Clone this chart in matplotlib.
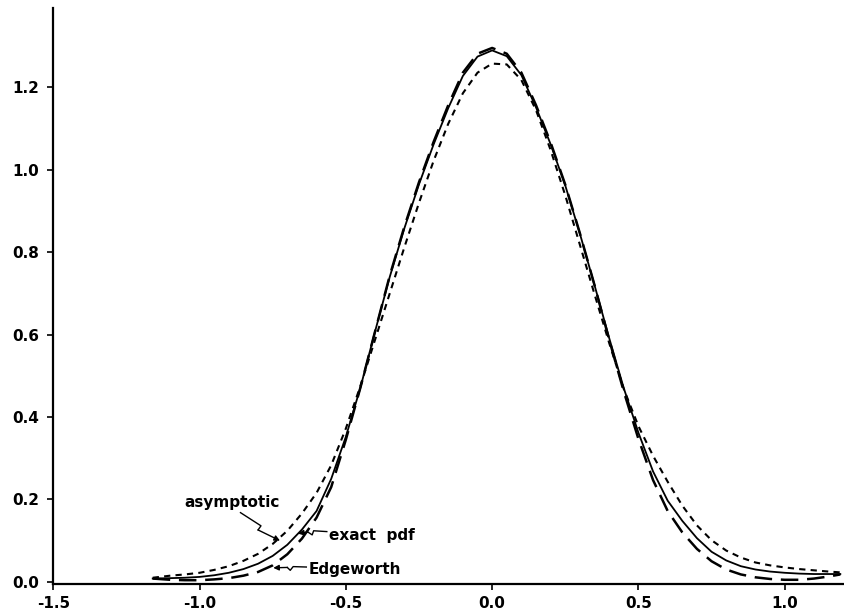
import numpy as np
import matplotlib
matplotlib.use("Agg")
import matplotlib.pyplot as plt

# values
x = [-1.16, -1.10, -1.05, -1.00, -0.95, -0.90, -0.85, -0.80, -0.75, -0.70,
     -0.65, -0.60, -0.55, -0.50, -0.45, -0.40, -0.35, -0.30, -0.25, -0.20,
     -0.15, -0.10, -0.05, 0.00, 0.05, 0.10, 0.15, 0.20, 0.25, 0.30,
     0.35, 0.40, 0.45, 0.50, 0.55, 0.60, 0.65, 0.70, 0.75, 0.80,
     0.85, 0.90, 0.95, 1.00, 1.05, 1.10, 1.15, 1.19]

exact_pdf = [0.008, 0.009, 0.010, 0.012, 0.016, 0.022, 0.031, 0.044, 0.063, 0.090,
             0.127, 0.172, 0.250, 0.352, 0.472, 0.608, 0.740, 0.858, 0.965, 1.062,
             1.150, 1.228, 1.275, 1.290, 1.276, 1.230, 1.152, 1.062, 0.962, 0.845,
             0.720, 0.592, 0.470, 0.362, 0.268, 0.197, 0.148, 0.106, 0.073, 0.052,
             0.038, 0.030, 0.025, 0.022, 0.020, 0.019, 0.019, 0.019]

asymptotic = [0.010, 0.015, 0.018, 0.022, 0.029, 0.038, 0.051, 0.068, 0.092, 0.124,
              0.166, 0.216, 0.283, 0.372, 0.476, 0.588, 0.700, 0.812, 0.920, 1.022,
              1.112, 1.186, 1.236, 1.258, 1.256, 1.218, 1.145, 1.048, 0.938, 0.818,
              0.698, 0.580, 0.468, 0.378, 0.306, 0.243, 0.185, 0.137, 0.101, 0.076,
              0.059, 0.047, 0.040, 0.035, 0.031, 0.028, 0.025, 0.023]

edgeworth = [0.008, 0.005, 0.004, 0.004, 0.006, 0.009, 0.015, 0.024, 0.040, 0.067,
             0.105, 0.156, 0.230, 0.345, 0.472, 0.608, 0.743, 0.862, 0.970, 1.068,
             1.157, 1.236, 1.282, 1.296, 1.282, 1.236, 1.157, 1.066, 0.964, 0.846,
             0.720, 0.588, 0.462, 0.347, 0.247, 0.172, 0.120, 0.080, 0.050, 0.030,
             0.018, 0.011, 0.007, 0.005, 0.005, 0.008, 0.013, 0.018]

xticks = [-1.5, -1.0, -0.5, 0.0, 0.5, 1.0]
yticks = [0.0, 0.2, 0.4, 0.6, 0.8, 1.0, 1.2]

plt.rcParams['axes.unicode_minus'] = False
plt.rcParams['font.family'] = 'DejaVu Sans'

fig = plt.figure(figsize=(8.45, 6.14), dpi=100)
ax = fig.add_axes([0.063, 0.049, 0.937, 0.938])

ax.plot(x, exact_pdf, color='black', lw=1.3, ls='-')
ax.plot(x, asymptotic, color='black', lw=1.5, ls=(0, (3, 2.5)))
ax.plot(x, edgeworth, color='black', lw=1.8, ls=(0, (7, 3.5)))

ax.set_xlim(-1.5, 1.206)
ax.set_ylim(-0.005, 1.393)
ax.set_xticks(xticks)
ax.set_xticklabels(['%.1f' % t for t in xticks])
ax.set_yticks(yticks)
ax.set_yticklabels(['%.1f' % t for t in yticks])

for s in ['top', 'right']:
    ax.spines[s].set_visible(False)
ax.spines['left'].set_linewidth(1.6)
ax.spines['bottom'].set_linewidth(1.6)
ax.tick_params(direction='out', length=4, width=1.2, labelsize=11)
ax.tick_params(axis='y', pad=6)
ax.tick_params(axis='x', pad=5)
for lab in ax.get_xticklabels() + ax.get_yticklabels():
    lab.set_fontweight('bold')

# labels with zigzag pointers
ax.text(-0.889, 0.192, 'asymptotic', fontsize=11, fontweight='bold', ha='center', va='center')
ax.text(-0.557, 0.113, 'exact  pdf', fontsize=11, fontweight='bold', ha='left', va='center')
ax.text(-0.628, 0.030, 'Edgeworth', fontsize=11, fontweight='bold', ha='left', va='center')

pointers = [
    [(-0.86, 0.168), (-0.79, 0.136), (-0.80, 0.126), (-0.725, 0.100)],
    [(-0.565, 0.122), (-0.61, 0.124), (-0.615, 0.114), (-0.63, 0.121), (-0.663, 0.117)],
    [(-0.635, 0.036), (-0.68, 0.037), (-0.69, 0.028), (-0.70, 0.035), (-0.748, 0.034)],
]
for p in pointers:
    px = [q[0] for q in p[:-1]]
    py = [q[1] for q in p[:-1]]
    ax.plot(px, py, color='black', lw=1.0)
    ax.annotate('', xy=p[-1], xytext=p[-2],
                arrowprops=dict(arrowstyle='-|>', color='black', lw=1.0,
                                mutation_scale=8, shrinkA=0, shrinkB=0))

fig.savefig('out.png', dpi=100)
